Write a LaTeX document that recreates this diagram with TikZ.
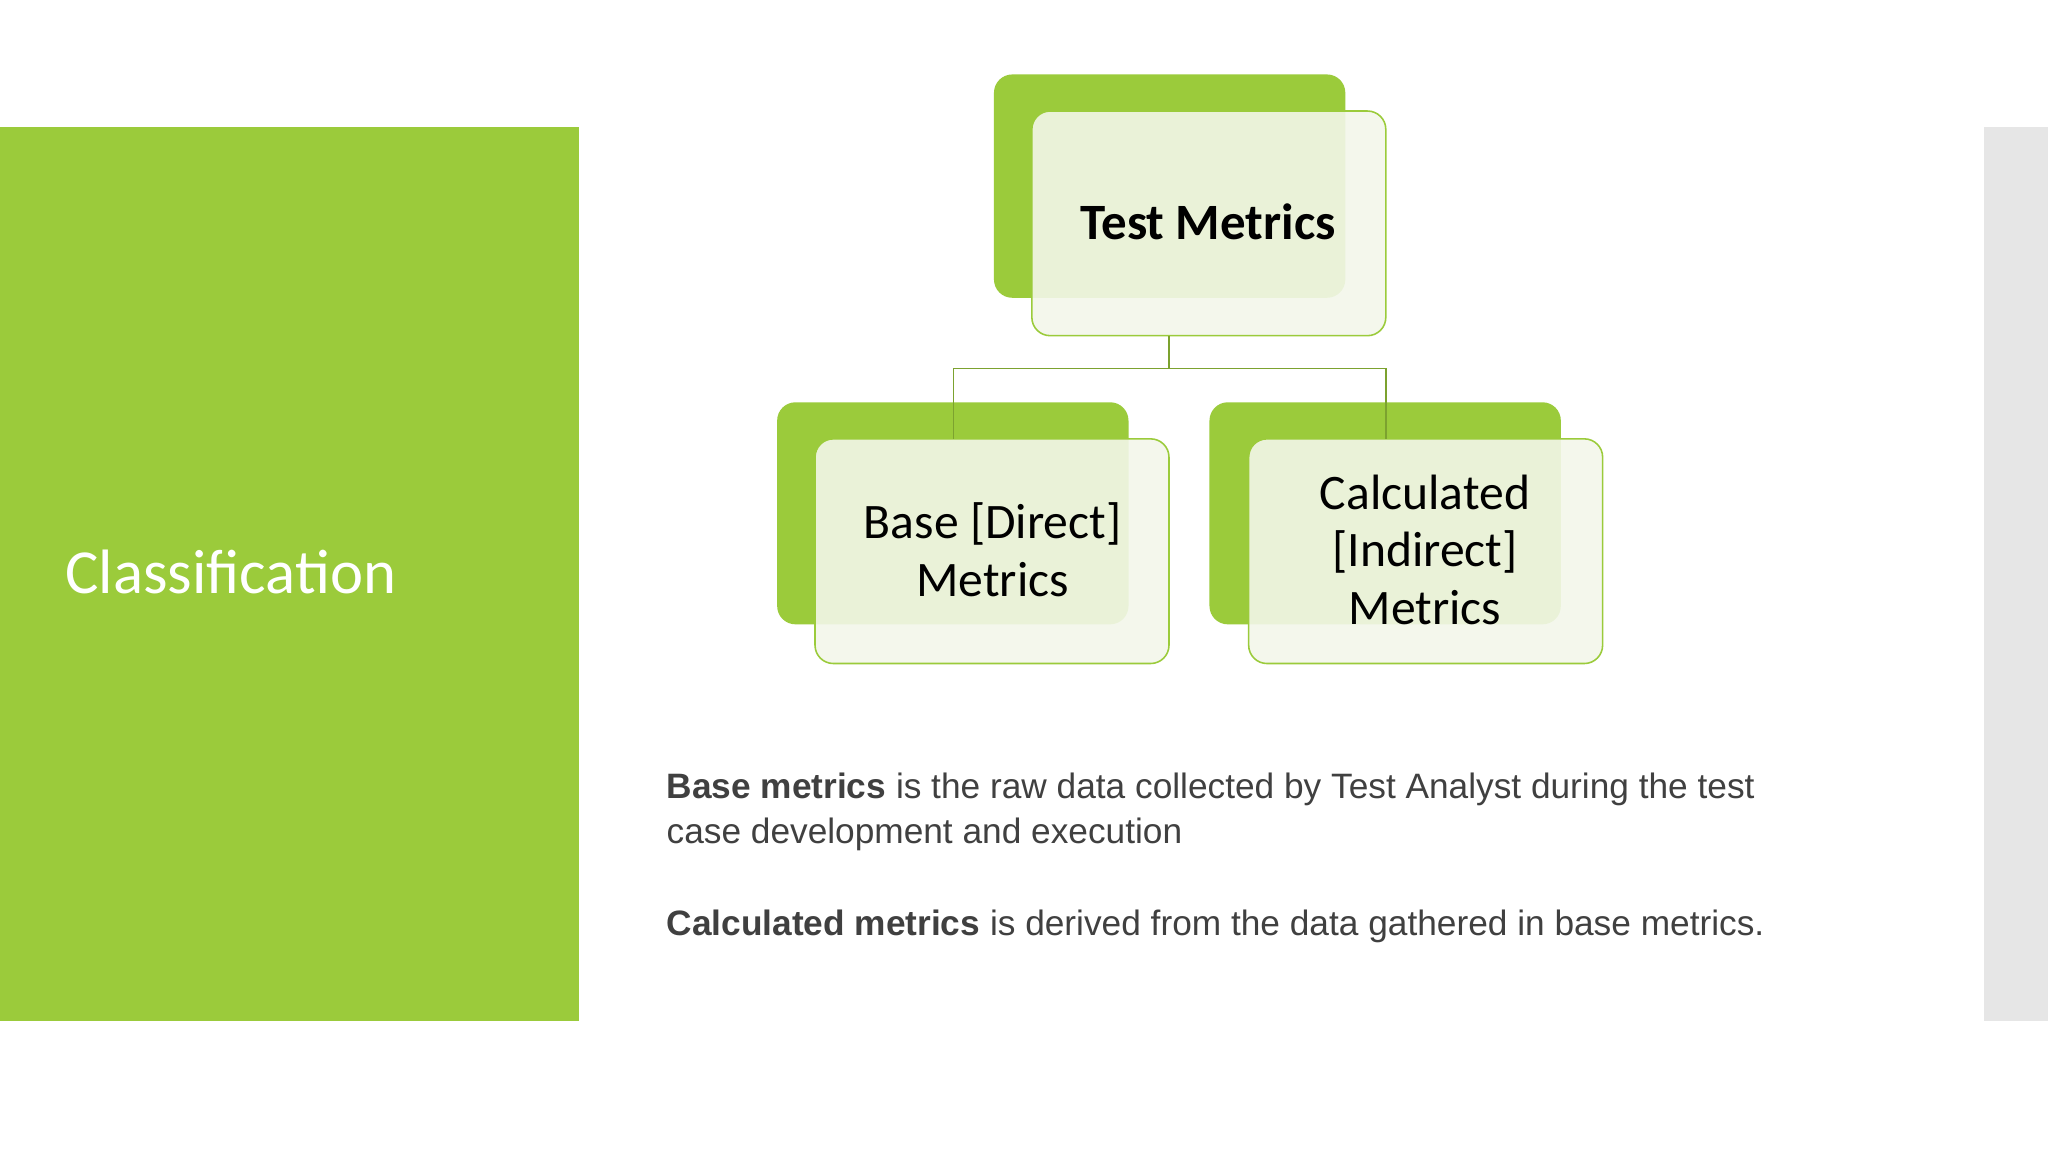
\documentclass[tikz,border=0pt]{standalone}
\usepackage{fontspec}
\setmainfont{Carlito}
\newfontfamily\arialf{Liberation Sans}
\definecolor{lgreen}{HTML}{9BCB3B}
\definecolor{pale}{HTML}{F3F7EA}
\definecolor{txt}{HTML}{404040}
\definecolor{side}{HTML}{E6E6E6}
\begin{document}
\begin{tikzpicture}[x=0.5pt,y=-0.5pt,
  backbox/.style={fill=lgreen,rounded corners=7pt},
  frontbox/.style={fill=pale,fill opacity=0.9,draw=lgreen,line width=0.6pt,rounded corners=7pt},
  lbl/.style={align=center,font=\fontsize{19}{22}\selectfont,text=black},
  conn/.style={draw=lgreen!80!black,line width=0.6pt},
  body/.style={anchor=west,font=\arialf\fontsize{13.5}{16}\selectfont,text=txt,inner sep=0}]
\useasboundingbox (0,0) rectangle (1568,882);
\fill[white] (0,0) rectangle (1568,882);
\fill[lgreen] (0,97) rectangle (443,782);
\fill[side] (1519,97) rectangle (1568,782);
\node[anchor=west,text=white,font=\fontsize{24}{28}\selectfont] (cls) at (43,438) {Classification};
% boxes
\fill[backbox] (761,57) rectangle (1030,228);
\filldraw[frontbox] (790,85) rectangle (1061,257);
\node[lbl,font=\bfseries\fontsize{19.5}{22}\selectfont] (top) at (925,170) {Test Metrics};
\fill[backbox] (595,308) rectangle (864,478);
\filldraw[frontbox] (624,336) rectangle (895,508);
\node[lbl] (base) at (760,421) {Base [Direct]\\Metrics};
\fill[backbox] (926,308) rectangle (1195,478);
\filldraw[frontbox] (956,336) rectangle (1227,508);
\node[lbl] (calc) at (1091,421) {Calculated\\{[Indirect]}\\Metrics};
\coordinate (tb) at (895,257);
\coordinate (lb) at (730,336);
\coordinate (rb) at (1061,336);
\draw[conn] (tb) -- (895,282) -- (730,282) -- (lb);
\draw[conn] (895,282) -- (1061,282) -- (rb);
\node[body] (t1) at (510,604) {\textbf{Base metrics} is the raw data collected by Test Analyst during the test};
\node[body] (t2) at (510,639) {case development and execution};
\node[body] (t3) at (510,709) {\textbf{Calculated metrics} is derived from the data gathered in base metrics.};
\end{tikzpicture}
\end{document}
